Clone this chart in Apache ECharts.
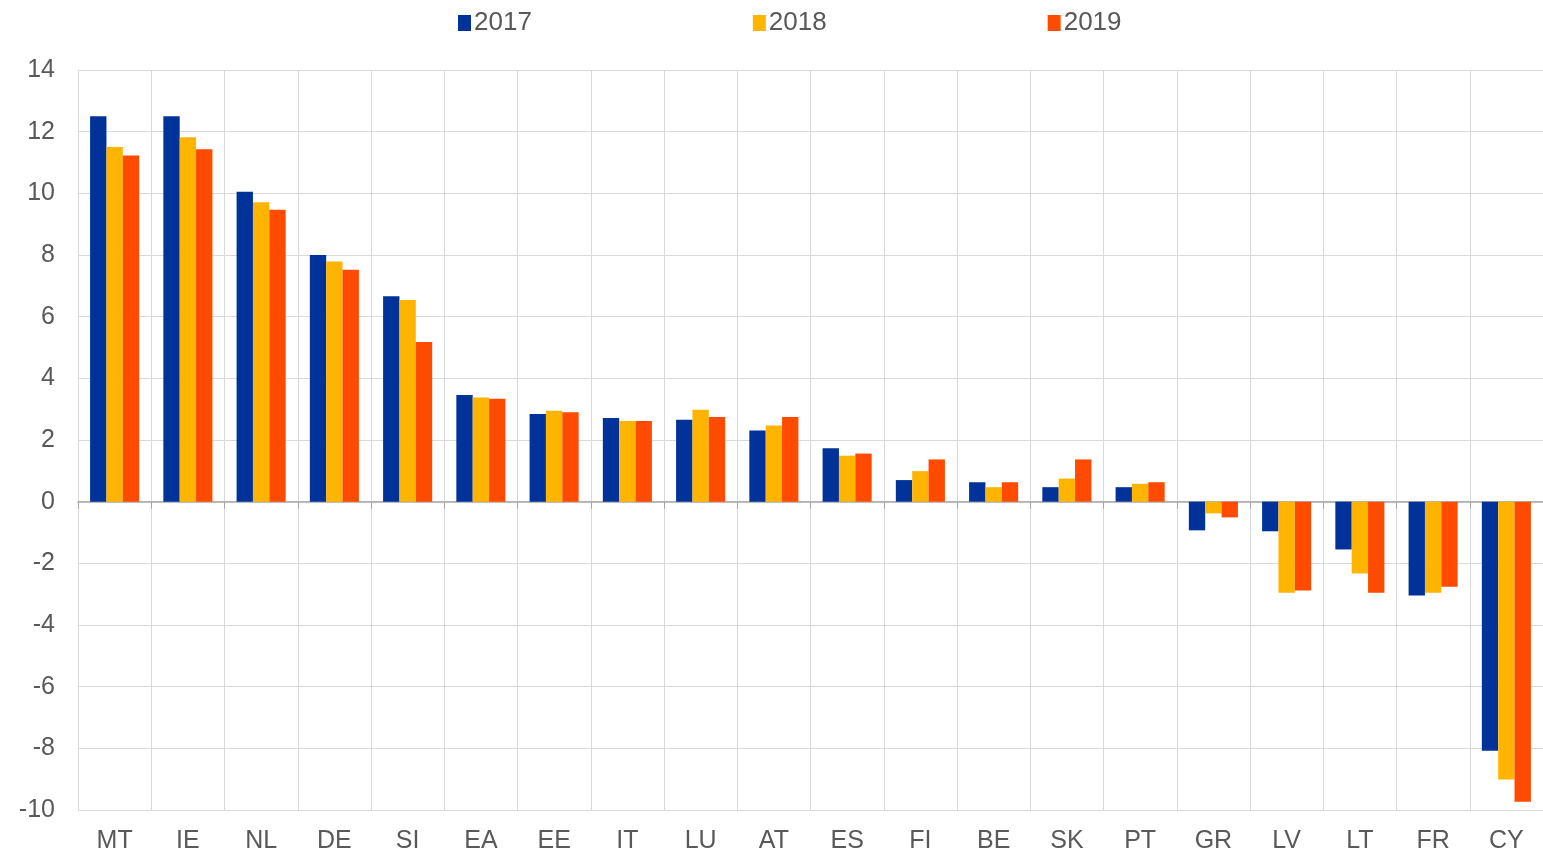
<!DOCTYPE html>
<html>
<head>
<meta charset="utf-8">
<script src="https://cdn.jsdelivr.net/npm/echarts@6/dist/echarts.min.js"></script>
<style>
  html, body { margin: 0; padding: 0; background: #fff; }
  #chart { width: 1543px; height: 856px; }
</style>
</head>
<body>
<div id="chart"></div>
<script>
  // countries, in the order shown
  const categories = ['MT', 'IE', 'NL', 'DE', 'SI', 'EA', 'EE', 'IT', 'LU', 'AT', 'ES', 'FI', 'BE', 'SK', 'PT', 'GR', 'LV', 'LT', 'FR', 'CY']

  const values2017 = [12.5, 12.5, 10.05, 8.0, 6.66, 3.46, 2.84, 2.71, 2.66, 2.31, 1.73, 0.7, 0.63, 0.47, 0.47, -0.93, -0.96, -1.55, -3.04, -8.08]
  const values2018 = [11.5, 11.82, 9.71, 7.79, 6.54, 3.38, 2.95, 2.62, 2.98, 2.47, 1.49, 0.99, 0.47, 0.75, 0.58, -0.38, -2.95, -2.33, -2.95, -9.01]
  const values2019 = [11.23, 11.43, 9.47, 7.52, 5.18, 3.34, 2.9, 2.62, 2.75, 2.75, 1.56, 1.37, 0.63, 1.37, 0.63, -0.51, -2.88, -2.95, -2.76, -9.73]

  const yMin = -10
  const yMax = 14
  const yStep = 2

  const textColor = '#595959'
  const gridColor = '#d9d9d9'
  const fontFamily = '"Liberation Sans", Arial, sans-serif'

  const chart = echarts.init(document.getElementById('chart'))

  const barSeries = (name, data, color) => ({
    name: name,
    type: 'bar',
    data: data,
    barGap: '0%',
    barCategoryGap: '33%',
    itemStyle: { color: color },
  })

  chart.setOption({
    animation: false,
    legend: {
      top: 5,
      left: 453,
      itemWidth: 13,
      itemHeight: 16,
      itemGap: 221,
      icon: 'rect',
      textStyle: { fontSize: 26, color: textColor, fontFamily: fontFamily, padding: [0, 0, 0, -2] },
      data: ['2017', '2018', '2019'],
    },
    grid: {
      left: 78,
      right: 0,
      top: 70,
      bottom: 46,
    },
    xAxis: [
      {
        // zero line with ticks
        type: 'category',
        data: categories,
        axisLine: { onZero: true, lineStyle: { color: '#a6a6a6', width: 1.5 } },
        axisTick: { show: true, length: 7, lineStyle: { color: '#a6a6a6' } },
        axisLabel: { show: false },
        splitLine: { show: true, interval: 0, lineStyle: { color: gridColor } },
      },
      {
        // labels along the bottom
        type: 'category',
        data: categories,
        position: 'bottom',
        axisLine: { show: false, onZero: false },
        axisTick: { show: false },
        splitLine: { show: false },
        axisLabel: { interval: 0, fontSize: 25, color: textColor, fontFamily: fontFamily, margin: 19 },
      },
    ],
    yAxis: {
      type: 'value',
      min: yMin,
      max: yMax,
      interval: yStep,
      axisLine: { show: false },
      axisTick: { show: false },
      axisLabel: { fontSize: 25, color: textColor, fontFamily: fontFamily, margin: 23 },
      splitLine: { show: true, lineStyle: { color: gridColor } },
    },
    series: [
      barSeries('2017', values2017, '#003299'),
      barSeries('2018', values2018, '#ffb400'),
      barSeries('2019', values2019, '#ff4b00'),
    ],
  })
</script>
</body>
</html>
